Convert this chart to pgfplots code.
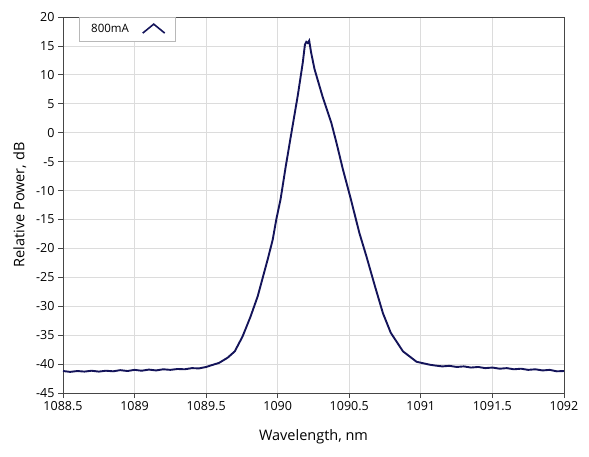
\documentclass[border=0pt]{standalone}
\usepackage{pgfplots}
\pgfplotsset{compat=1.18}
\usepackage{fontspec}
\setmainfont{Open Sans}
\definecolor{trace}{RGB}{20,20,90}
\definecolor{gridc}{RGB}{220,220,220}
\definecolor{framec}{RGB}{70,70,70}

\begin{document}
\begin{tikzpicture}
\begin{axis}[
    width=501pt, height=376pt,
    scale only axis,
    xmin=1088.5, xmax=1092,
    ymin=-45, ymax=20,
    xtick={1088.5,1089,...,1092},
    ytick={-45,-40,...,20},
    grid=major,
    grid style={gridc, line width=0.8pt},
    axis line style={framec, line width=0.8pt},
    tick style={framec, line width=0.8pt},
    tick align=outside,
    major tick length=5pt,
    xtick pos=bottom, ytick pos=left,
    ticklabel style={font=\fontsize{12.5}{14}\selectfont},
    /pgf/number format/.cd, fixed, precision=1, 1000 sep={}, assume math mode=true,
    /pgfplots/.cd,
    xlabel={Wavelength, nm},
    ylabel={Relative Power, dB},
    label style={font=\fontsize{14.5}{16}\selectfont},
    xlabel style={at={(axis description cs:0.5,-0.117)}, anchor=center},
    ylabel style={at={(axis description cs:-0.086,0.5)}, anchor=center},
    legend plot pos=right,
    legend style={at={(axis cs:1088.612,20)}, anchor=north west,
        draw=white!72!black, fill=white, font=\fontsize{11.5}{13}\selectfont,
        inner xsep=10pt, inner ysep=5pt,
        /tikz/every odd column/.append style={column sep=11pt}},
]
\addplot[trace, line width=1.9pt, forget plot] coordinates {
(1088.50,-41.2) (1088.55,-41.35) (1088.60,-41.2) (1088.65,-41.3) (1088.70,-41.15)
(1088.75,-41.3) (1088.80,-41.15) (1088.85,-41.25) (1088.90,-41.05) (1088.95,-41.2)
(1089.00,-41.0) (1089.05,-41.15) (1089.10,-40.95) (1089.15,-41.1) (1089.20,-40.9)
(1089.25,-41.0) (1089.30,-40.85) (1089.35,-40.9) (1089.40,-40.7) (1089.45,-40.75)
(1089.50,-40.5) (1089.55,-40.1) (1089.59,-39.8) (1089.65,-38.9) (1089.70,-37.8)
(1089.755,-35.2) (1089.81,-31.8) (1089.86,-28.3) (1089.895,-25.1) (1089.93,-21.9)
(1089.965,-18.5) (1089.99,-15.0) (1090.02,-11.5) (1090.055,-6.0) (1090.09,-0.85)
(1090.14,6.4) (1090.175,12.1) (1090.19,15.2) (1090.20,15.7) (1090.21,15.5)
(1090.22,15.9) (1090.233,13.9) (1090.257,11.0) (1090.315,6.1)
(1090.374,1.75) (1090.41,-1.7) (1090.455,-6.3) (1090.51,-11.4) (1090.57,-17.3)
(1090.62,-21.4) (1090.68,-26.6) (1090.735,-31.2) (1090.79,-34.6) (1090.875,-37.8)
(1090.97,-39.6) (1091.06,-40.1) (1091.10,-40.25) (1091.15,-40.4) (1091.20,-40.3)
(1091.25,-40.5) (1091.30,-40.4) (1091.35,-40.6) (1091.40,-40.5) (1091.45,-40.7)
(1091.50,-40.6) (1091.55,-40.8) (1091.60,-40.7) (1091.65,-40.9) (1091.70,-40.8)
(1091.75,-41.0) (1091.80,-40.9) (1091.85,-41.1) (1091.90,-41.0) (1091.95,-41.25)
(1092.00,-41.2)
};
\addlegendimage{legend image code/.code={
    \draw[trace, line width=1.6pt] (0pt,-4pt) -- (11pt,5pt) -- (22pt,-4pt);}}
\addlegendentry{800mA}
\end{axis}
\path ([shift={(-63pt,-63pt)}]current axis.south west) rectangle ([shift={(25pt,17pt)}]current axis.north east);
\end{tikzpicture}
\end{document}
